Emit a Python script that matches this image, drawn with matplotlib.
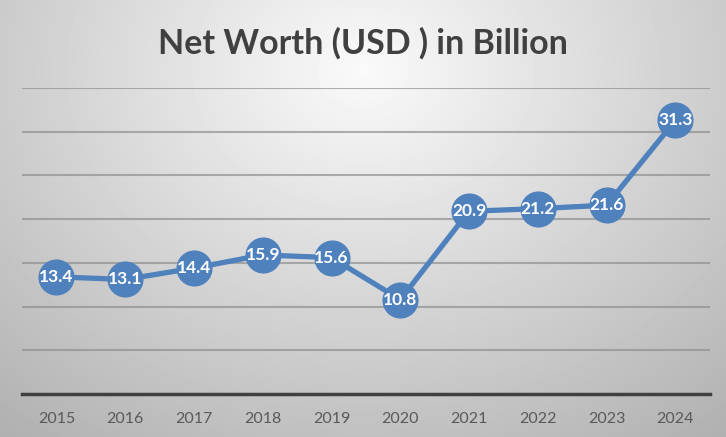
import numpy as np
import matplotlib
matplotlib.use("Agg")
import matplotlib.pyplot as plt

years = ["2015", "2016", "2017", "2018", "2019", "2020", "2021", "2022", "2023", "2024"]
net_worth = [13.4, 13.1, 14.4, 15.9, 15.6, 10.8, 20.9, 21.2, 21.6, 31.3]

blue = "#4F81BD"
font = "Lato"

fig = plt.figure(figsize=(7.26, 4.37), dpi=100)

# radial gray background
bg = fig.add_axes([0, 0, 1, 1], zorder=-10)
yy, xx = np.mgrid[0:437, 0:726]
d = np.sqrt(((xx - 363) / 520.0) ** 2 + ((yy - 70) / 420.0) ** 2)
shade = 0.98 - 0.26 * np.clip(d, 0, 1.2)
bg.imshow(shade, cmap="gray", vmin=0, vmax=1, aspect="auto", extent=[0, 1, 0, 1], origin="upper")
bg.set_axis_off()

ax = fig.add_axes([22 / 726, 43 / 437, 687.8 / 726, 306 / 437])
ax.patch.set_alpha(0)
x = np.arange(len(years))
ax.plot(x, net_worth, color=blue, lw=3.8, marker="o", ms=25, zorder=3)
for xi, v in zip(x, net_worth):
    ax.text(xi, v, f"{v}", ha="center", va="center", color="white",
            fontsize=12.5, fontweight="bold", family=font, zorder=4)

ax.set_xlim(-0.5, len(years) - 0.5)
ax.set_ylim(0, 35)
ax.set_yticks(np.arange(5, 36, 5))
ax.yaxis.grid(True, color="#8f8f8f", lw=1.5, alpha=0.7)
ax.set_axisbelow(True)
ax.tick_params(axis="y", left=False, labelleft=False)
ax.set_xticks(x)
ax.set_xticklabels(years, fontsize=11.5, color="#595959", family=font)
ax.tick_params(axis="x", length=0, pad=13)
for s in ["top", "right", "left"]:
    ax.spines[s].set_visible(False)
ax.spines["bottom"].set_color("#404040")
ax.spines["bottom"].set_linewidth(2.5)

fig.text(0.5, 0.902, "Net Worth (USD ) in Billion", ha="center", va="center",
         fontsize=24.5, fontweight="bold", color="#404040", family=font)

fig.savefig("out.png", dpi=100)
